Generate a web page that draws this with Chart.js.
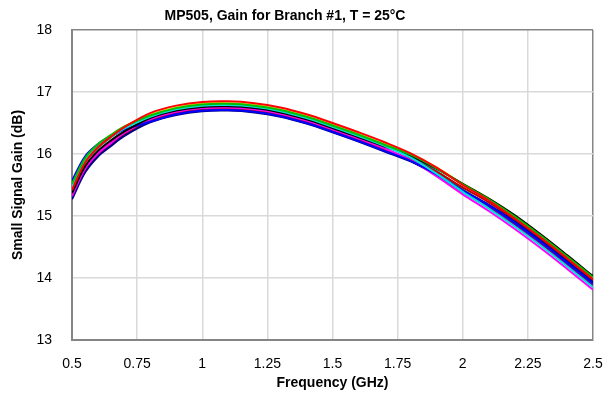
<!DOCTYPE html>
<html>
<head>
<meta charset="utf-8">
<script src="https://cdn.jsdelivr.net/npm/chart.js@4"></script>
<style>
  body { margin: 0; background: #fff; }
</style>
</head>
<body>
<canvas id="gainChart" width="606" height="401"></canvas>
<script>
// 周波数 (GHz)
const freqs = [0.5, 0.55, 0.6, 0.65, 0.7, 0.8, 0.9, 1.0, 1.1, 1.2, 1.3, 1.4, 1.5, 1.6, 1.7, 1.8, 1.9, 2.0, 2.1, 2.2, 2.3, 2.4, 2.5];
const xTickLabels = ["0.5", "0.75", "1", "1.25", "1.5", "1.75", "2", "2.25", "2.5"];
const yTickLabels = ["13", "14", "15", "16", "17", "18"];
const chartTitle = "MP505, Gain for Branch #1, T = 25°C";

// 各チャンネルのゲイン (dB)
const gainRed     = [15.42, 15.86, 16.11, 16.28, 16.43, 16.66, 16.78, 16.84, 16.85, 16.82, 16.75, 16.64, 16.50, 16.35, 16.19, 16.01, 15.78, 15.50, 15.25, 14.96, 14.65, 14.32, 13.98];
const gainGreen   = [15.52, 15.93, 16.16, 16.31, 16.44, 16.62, 16.74, 16.80, 16.81, 16.78, 16.71, 16.60, 16.46, 16.31, 16.15, 15.99, 15.77, 15.51, 15.27, 14.99, 14.68, 14.35, 14.01];
const gainBlue    = [15.57, 15.96, 16.16, 16.29, 16.39, 16.52, 16.64, 16.70, 16.71, 16.68, 16.61, 16.50, 16.36, 16.21, 16.05, 15.89, 15.67, 15.41, 15.17, 14.89, 14.58, 14.25, 13.91];
const gainCyan    = [15.47, 15.88, 16.12, 16.28, 16.41, 16.60, 16.72, 16.78, 16.79, 16.76, 16.69, 16.58, 16.44, 16.29, 16.13, 15.94, 15.68, 15.39, 15.12, 14.83, 14.52, 14.19, 13.85];
const gainMagenta = [15.32, 15.76, 16.01, 16.18, 16.34, 16.56, 16.68, 16.74, 16.75, 16.72, 16.65, 16.54, 16.40, 16.25, 16.09, 15.90, 15.64, 15.35, 15.08, 14.79, 14.48, 14.15, 13.81];
const gainBlack   = [15.37, 15.80, 16.05, 16.22, 16.36, 16.58, 16.70, 16.76, 16.77, 16.74, 16.67, 16.56, 16.42, 16.27, 16.12, 15.97, 15.76, 15.52, 15.28, 15.01, 14.70, 14.37, 14.03];
const gainYellow  = [15.50, 15.92, 16.15, 16.30, 16.44, 16.63, 16.75, 16.81, 16.82, 16.79, 16.72, 16.61, 16.47, 16.32, 16.16, 16.00, 15.78, 15.52, 15.28, 15.00, 14.69, 14.36, 14.02];
const gainNavy    = [15.27, 15.70, 15.96, 16.13, 16.29, 16.51, 16.63, 16.69, 16.70, 16.67, 16.60, 16.49, 16.35, 16.20, 16.04, 15.88, 15.66, 15.41, 15.18, 14.91, 14.60, 14.27, 13.93];
const gainMaroon  = [15.34, 15.77, 16.01, 16.18, 16.33, 16.54, 16.66, 16.72, 16.73, 16.70, 16.63, 16.52, 16.38, 16.23, 16.07, 15.92, 15.71, 15.46, 15.22, 14.94, 14.63, 14.30, 13.96];
const gainPurple  = [15.30, 15.73, 15.98, 16.15, 16.31, 16.53, 16.65, 16.71, 16.72, 16.69, 16.62, 16.51, 16.37, 16.22, 16.06, 15.89, 15.66, 15.39, 15.14, 14.86, 14.55, 14.22, 13.88];
const gainTeal    = [15.44, 15.86, 16.10, 16.27, 16.41, 16.61, 16.73, 16.79, 16.80, 16.77, 16.70, 16.59, 16.45, 16.30, 16.14, 15.96, 15.72, 15.43, 15.16, 14.87, 14.56, 14.23, 13.89];

const seriesList = [
  { data: gainRed, color: "#ff0000" },
  { data: gainGreen, color: "#00c000" },
  { data: gainCyan, color: "#00e0e0" },
  { data: gainBlack, color: "#000000" },
  { data: gainBlue, color: "#0000ff" },
  { data: gainMagenta, color: "#ff00ff" },
  { data: gainYellow, color: "#e0e000" },
  { data: gainNavy, color: "#000080" },
  { data: gainMaroon, color: "#c00000" },
  { data: gainPurple, color: "#800080" },
  { data: gainTeal, color: "#008080" },
];

const FONT = "'Liberation Sans', Arial, sans-serif";
const GRID = "#d9d9d9";
const FRAME = "#858585";

const datasets = seriesList.map((s) => ({
  data: s.data.map((v, i) => ({ x: freqs[i], y: v })),
  borderColor: s.color,
  borderWidth: 2,
  pointRadius: 0,
  fill: false,
  tension: 0.35,
}));

// タイトル (元図では左寄り)
const titlePlugin = {
  id: "leftTitle",
  afterDraw(chart) {
    const c = chart.ctx;
    c.save();
    c.font = "bold 14px " + FONT;
    c.fillStyle = "#000";
    c.textAlign = "center";
    c.textBaseline = "middle";
    c.fillText(chartTitle, 285, 16);
    c.restore();
  },
};

const ctx = document.getElementById("gainChart").getContext("2d");
new Chart(ctx, {
  type: "line",
  data: { datasets: datasets },
  plugins: [titlePlugin],
  options: {
    responsive: false,
    animation: false,
    layout: { padding: { left: 0, right: 13, top: 30, bottom: 0 } },
    plugins: {
      legend: { display: false },
      tooltip: { enabled: false },
      title: { display: false },
    },
    scales: {
      x: {
        type: "linear",
        min: 0.5,
        max: 2.5,
        ticks: {
          stepSize: 0.25,
          color: "#000",
          padding: 16,
          maxRotation: 0,
          font: { family: FONT, size: 14 },
          callback: (value, index) => xTickLabels[index],
        },
        grid: {
          drawTicks: false,
          lineWidth: 1.5,
          color: (c) => (c.tick && c.tick.value === 2.5 ? FRAME : GRID),
        },
        border: { color: FRAME, width: 2 },
        title: {
          display: true,
          text: "Frequency (GHz)",
          color: "#000",
          font: { family: FONT, size: 14, weight: "bold" },
          padding: { top: 0, bottom: 9 },
        },
        afterFit: (scale) => {
          scale.height = 61;
          scale.paddingLeft = 0;
          scale.paddingRight = 0;
        },
      },
      y: {
        min: 13,
        max: 18,
        ticks: {
          stepSize: 1,
          color: "#000",
          padding: 20,
          font: { family: FONT, size: 14 },
          callback: (value, index) => yTickLabels[index],
        },
        grid: {
          drawTicks: false,
          lineWidth: 1.5,
          color: (c) => (c.tick && c.tick.value === 18 ? FRAME : GRID),
        },
        border: { color: FRAME, width: 2 },
        title: {
          display: true,
          text: "Small Signal Gain (dB)",
          color: "#000",
          font: { family: FONT, size: 14, weight: "bold" },
          padding: { top: 10, bottom: 0 },
        },
        afterFit: (scale) => { scale.width = 72; },
      },
    },
  },
});
</script>
</body>
</html>
